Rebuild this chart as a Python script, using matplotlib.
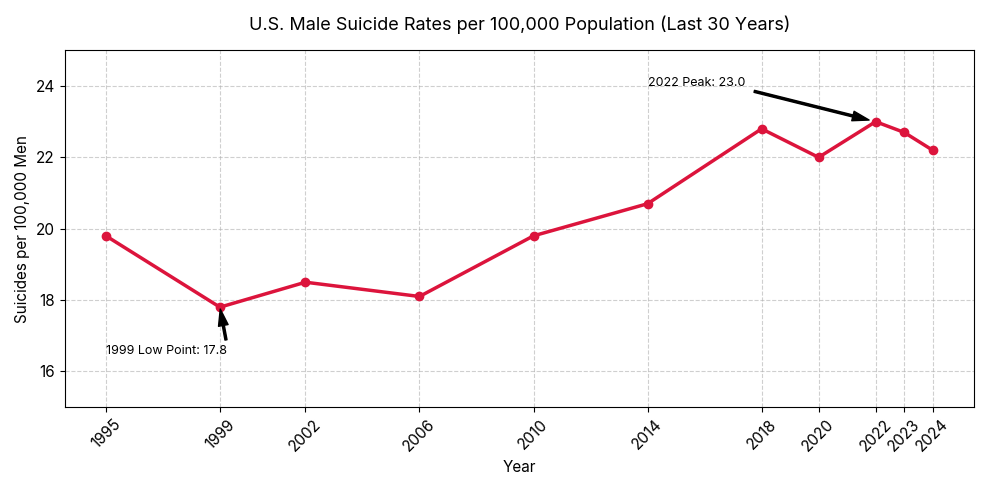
import matplotlib
matplotlib.use("Agg")
import matplotlib.pyplot as plt

plt.rcParams['font.family'] = ['Inter', 'DejaVu Sans']

years = [1995, 1999, 2002, 2006, 2010, 2014, 2018, 2020, 2022, 2023, 2024]
rates = [19.8, 17.8, 18.5, 18.1, 19.8, 20.7, 22.8, 22.0, 23.0, 22.7, 22.2]

fig, ax = plt.subplots(figsize=(9.89, 4.9), dpi=100)
ax.plot(years, rates, color='#DC143C', linewidth=2.5, marker='o', markersize=6)
ax.set_title('U.S. Male Suicide Rates per 100,000 Population (Last 30 Years)', fontsize=13, pad=15)
ax.set_xlabel('Year', fontsize=11)
ax.set_ylabel('Suicides per 100,000 Men', fontsize=11)
ax.set_ylim(15, 25)
ax.set_yticks([16, 18, 20, 22, 24])
ax.set_xticks(years)
ax.set_xticklabels([str(y) for y in years], rotation=45, fontsize=11)
ax.tick_params(axis='y', labelsize=11)
ax.grid(True, linestyle='--', alpha=0.6)

ax.annotate('1999 Low Point: 17.8', xy=(1999, 17.8), xytext=(1995, 16.5),
            fontsize=9, arrowprops=dict(facecolor='black', shrink=0.05, width=1.5, headwidth=7))
ax.annotate('2022 Peak: 23.0', xy=(2022, 23.0), xytext=(2014, 24),
            fontsize=9, arrowprops=dict(facecolor='black', shrink=0.05, width=1.5, headwidth=7))

fig.tight_layout()
fig.savefig('out.png', dpi=100)
